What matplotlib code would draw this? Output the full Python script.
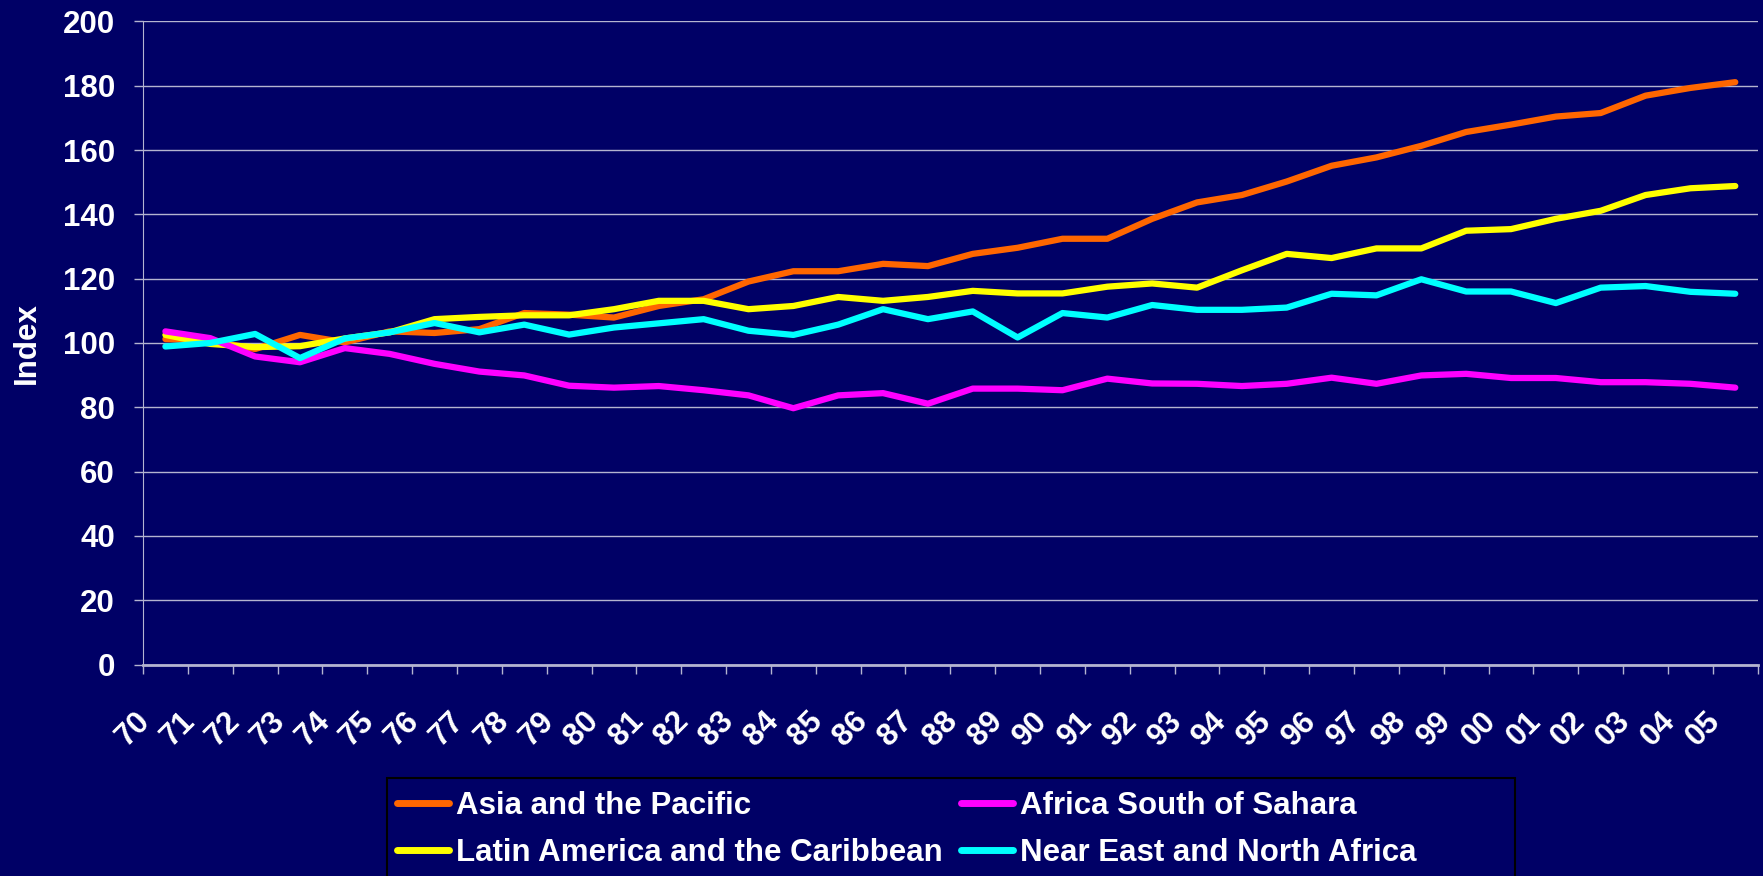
import matplotlib
matplotlib.use("Agg")
import matplotlib.pyplot as plt
from matplotlib.patches import Rectangle
from matplotlib.transforms import ScaledTranslation

# index values 1970-2005
years = ['70', '71', '72', '73', '74', '75', '76', '77', '78', '79',
         '80', '81', '82', '83', '84', '85', '86', '87', '88', '89',
         '90', '91', '92', '93', '94', '95', '96', '97', '98', '99',
         '00', '01', '02', '03', '04', '05']

asia = [101.2, 100.7, 98.1, 102.5, 100.2, 103.6, 103.1, 104.3, 109.3, 108.8,
        107.9, 111.5, 113.6, 119.1, 122.3, 122.3, 124.6, 123.9, 127.7, 129.6,
        132.4, 132.4, 138.6, 143.7, 146.0, 150.2, 155.1, 157.7, 161.3, 165.6,
        167.9, 170.4, 171.5, 176.9, 179.3, 181.1]
latin = [102.5, 99.7, 98.7, 99.0, 101.4, 103.3, 107.4, 108.1, 108.6, 108.6,
         110.5, 113.1, 113.1, 110.5, 111.5, 114.3, 113.1, 114.3, 116.2, 115.4,
         115.4, 117.5, 118.5, 117.2, 122.6, 127.7, 126.4, 129.4, 129.4, 134.9,
         135.4, 138.6, 141.1, 146.0, 148.1, 148.8]
africa = [103.6, 101.5, 95.8, 94.0, 98.4, 96.6, 93.5, 91.1, 89.9, 86.7,
          86.1, 86.6, 85.3, 83.7, 79.7, 83.7, 84.4, 81.1, 85.8, 85.8,
          85.3, 88.9, 87.4, 87.3, 86.6, 87.3, 89.2, 87.3, 89.9, 90.4,
          89.1, 89.1, 87.8, 87.8, 87.3, 86.1]
near_east = [98.9, 100.0, 102.8, 95.3, 101.4, 103.3, 106.2, 103.3, 105.7, 102.6,
             104.8, 106.1, 107.4, 103.8, 102.5, 105.7, 110.5, 107.4, 109.8, 101.7,
             109.3, 107.9, 111.8, 110.3, 110.3, 111.0, 115.3, 114.8, 119.8, 116.0,
             116.0, 112.4, 117.2, 117.7, 115.9, 115.3]

BG = '#000066'
GRID = '#B4B4D0'
FS = 22.5

plt.rcParams['font.family'] = ['Liberation Sans', 'DejaVu Sans']
plt.rcParams['font.weight'] = 'bold'

fig = plt.figure(figsize=(17.63, 8.76), dpi=100, facecolor=BG)
ax = fig.add_axes([0.0811, 0.2414, 0.9159, 0.7342], facecolor=BG)

x = list(range(len(years)))
ax.plot(x, asia, color='#FF6600', lw=4.5, solid_capstyle='round', label='Asia and the Pacific')
ax.plot(x, latin, color='#FFFF00', lw=4.5, solid_capstyle='round', label='Latin America and the Caribbean')
ax.plot(x, africa, color='#FF00FF', lw=4.5, solid_capstyle='round', label='Africa South of Sahara')
ax.plot(x, near_east, color='#00FFFF', lw=4.5, solid_capstyle='round', label='Near East and North Africa')

ax.set_xlim(-0.5, len(years) - 0.5)
ax.set_ylim(0, 200)
ax.set_yticks(range(0, 201, 20))
ax.yaxis.grid(True, color=GRID, lw=1)
ax.set_axisbelow(True)

# tick marks on category boundaries, labels near the centres
ax.set_xticks([i - 0.5 for i in range(len(years) + 1)], minor=True)
ax.set_xticks(x)
ax.set_xticklabels(years, rotation=45, ha='right', va='baseline', rotation_mode='anchor')
ax.tick_params(axis='x', which='major', length=0, pad=41.5, labelsize=FS, labelcolor='white')
ax.tick_params(axis='x', which='minor', length=6.7, width=1, color=GRID, direction='out')
shift = ScaledTranslation(-0.14, 0, fig.dpi_scale_trans)
for lab in ax.get_xticklabels():
    lab.set_transform(lab.get_transform() + shift)

ax.tick_params(axis='y', length=6.7, width=1, color=GRID, direction='out', labelsize=FS,
               labelcolor='white', pad=13.5)

for side in ['top', 'right']:
    ax.spines[side].set_visible(False)
for side in ['left', 'bottom']:
    ax.spines[side].set_color(GRID)
ax.spines['bottom'].set_linewidth(2)

ax.set_ylabel('Index', color='white', fontsize=FS, fontweight='bold')
ax.yaxis.set_label_coords(-0.0628, 0.5)

# legend box, drawn separately so it keeps the wide right margin
fig.patches.append(Rectangle((387 / 1763, -0.002), 1128 / 1763, 100 / 876,
                             transform=fig.transFigure, facecolor=BG,
                             edgecolor='black', lw=1.5, zorder=0))
handles, labels = ax.get_legend_handles_labels()
leg = fig.legend(handles, labels, ncol=2, loc='upper left',
                 bbox_to_anchor=(397 / 1763, 1 - 791 / 876), bbox_transform=fig.transFigure,
                 fontsize=FS, frameon=False, handlelength=1.66, handletextpad=0.22,
                 borderpad=0, borderaxespad=0, labelspacing=0.53, columnspacing=0.6)
for t in leg.get_texts():
    t.set_color('white')
for h in leg.legend_handles:
    h.set_linewidth(5)

plt.savefig('out.png', dpi=100, facecolor=BG)
